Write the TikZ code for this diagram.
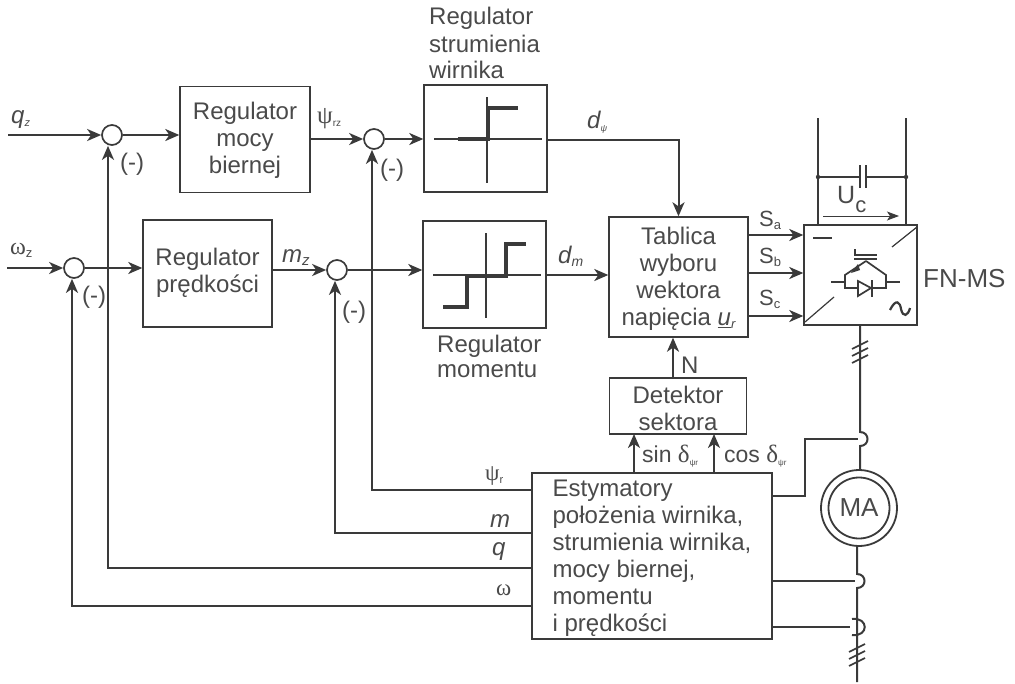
\documentclass[tikz,border=0pt]{standalone}
\usepackage{fontspec}
\setmainfont{Liberation Sans}
\newfontfamily\grk{Liberation Serif}
\usetikzlibrary{arrows.meta,calc}
\definecolor{ink}{HTML}{3A3A3A}
\definecolor{txt}{HTML}{4A4A4A}
\newcommand{\fs}[1]{\fontsize{#1}{#1}\selectfont}
\newcommand{\lowt}[2]{\raisebox{-3pt}{\fontsize{#1}{#1}\selectfont #2}}
\newcommand{\blines}[3]{\raisebox{#2}[0pt][0pt]{\begin{tabular}{@{}#1@{}}#3\end{tabular}}}
\tikzset{
  mainfont/.style={font=\fontsize{24}{27}\selectfont, text=txt},
  blk/.style={draw=ink, line width=1.4pt, fill=white, inner sep=0pt, mainfont},
  sumnode/.style={circle, draw=ink, line width=1.7pt, fill=white, minimum size=20pt, inner sep=0pt},
  lab/.style={anchor=base west, inner sep=0pt, mainfont},
  smallf/.style={font=\fontsize{22}{22}\selectfont},
  minus/.style={font=\fontsize{24}{24}\selectfont},
  wire/.style={draw=ink, line width=2pt},
  sig/.style={wire, -{Stealth[length=14pt,width=12pt,inset=4pt]}},
  thinw/.style={draw=ink, line width=1.2pt},
  curve/.style={draw=ink, line width=3.4pt, line join=miter},
  axis/.style={draw=ink, line width=1.2pt},
}
\begin{document}
\begin{tikzpicture}[x=1pt,y=-1pt]
\useasboundingbox (0,0) rectangle (1015,683);
% blocks
\node[blk, minimum width=130pt, minimum height=106pt] (mocy) at (245,139.5) {\blines{c}{-8pt}{Regulator\\mocy\\biernej}};
\node[blk, minimum width=129pt, minimum height=107pt] (pred) at (207.5,273.5) {\blines{c}{-6pt}{Regulator\\prędkości}};
\node[blk, minimum width=123pt, minimum height=107pt] (rstr) at (485.5,138.5) {};
\node[blk, minimum width=123pt, minimum height=107pt] (rmom) at (484.5,274.5) {};
\node[blk, minimum width=139pt, minimum height=120pt] (tab) at (678.5,277) {\blines{c}{-9pt}{Tablica\\wyboru\\wektora\\napięcia {\itshape\underline{u}\lowt{13}{r}}}};
\node[blk, minimum width=137pt, minimum height=56pt] (det) at (678,406) {\blines{c}{-12pt}{Detektor\\sektora}};
\node[blk, minimum width=240pt, minimum height=166pt] (est) at (652,556) {\blines{l}{-8.5pt}{Estymatory\\położenia wirnika,\\strumienia wirnika,\\mocy biernej,\\momentu\\i prędkości}};
\node[blk, minimum width=113pt, minimum height=100pt] (conv) at (860.5,275) {};
% summing nodes
\node[sumnode] (s1) at (112,135) {};
\node[sumnode] (s2) at (74,268) {};
\node[sumnode] (s3) at (374,139) {};
\node[sumnode] (s4) at (337,270) {};
% motor
\node[circle, draw=ink, line width=1.8pt, minimum size=76pt, inner sep=0pt] (ma) at (859,508) {};
\node[circle, draw=ink, line width=1.8pt, minimum size=61pt, inner sep=0pt, mainfont, font=\fontsize{26}{26}\selectfont] (mai) at (859,508) {MA};
% free ends
\coordinate (qin) at (8,135);
\coordinate (win) at (7,268);
\coordinate (psiout) at (est.west |- 0,490);
\coordinate (mout) at (est.west |- 0,533);
\coordinate (qout) at (est.west |- 0,568);
\coordinate (wout) at (est.west |- 0,606);
% forward path
\draw[sig] (qin) -- (s1.west);
\draw[sig] (win) -- (s2.west);
\draw[sig] (s1.east) -- (s1.east -| mocy.west);
\draw[sig] (s2.east) -- (s2.east -| pred.west);
\draw[sig] (mocy.east |- s3.west) -- (s3.west);
\draw[sig] (pred.east |- s4.west) -- (s4.west);
\draw[sig] (s3.east) -- (s3.east -| rstr.west);
\draw[sig] (s4.east) -- (s4.east -| rmom.west);
\draw[sig] (rstr.east |- 0,140) -| (tab.north);
\draw[sig] (rmom.east |- 0,275) -- (tab.west |- 0,275);
\draw[sig] (det.north -| 673,0) -- (tab.south -| 673,0);
\draw[sig] (634,473) -- (634,434);
\draw[sig] (714,473) -- (714,434);
% S lines
\draw[sig] (tab.east |- 0,235) -- (conv.west |- 0,235);
\draw[sig] (tab.east |- 0,273) -- (conv.west |- 0,273);
\draw[sig] (tab.east |- 0,316) -- (conv.west |- 0,316);
% feedback
\draw[sig] (psiout) -| ([xshift=-2pt]s3.south);
\draw[sig] (mout) -| ([xshift=-2pt]s4.south);
\draw[sig] (qout) -| ([xshift=-4pt]s1.south);
\draw[sig] (wout) -| ([xshift=-2pt]s2.south);
% DC link
\coordinate (dl) at (818,118);
\coordinate (dr) at (906,118);
\draw[wire] (dl) -- (dl |- conv.north);
\draw[wire] (dr) -- (dr |- conv.north);
\draw[wire] (818,177) -- (860,177);
\draw[wire] (866,177) -- (906,177);
\fill[ink] (818,177) circle (2.2pt) (906,177) circle (2.2pt);
\draw[wire] (860,165) -- (860,188);
\draw[wire] (866,165) -- (866,188);
\draw[draw=ink, line width=1pt, -{Stealth[length=12pt,width=9pt,inset=3pt]}] (823,216) -- (899,216);
% motor lines with hooks
\coordinate (j1a) at (860,432);
\coordinate (j1b) at (860,446);
\coordinate (j2a) at (857,574);
\coordinate (j2b) at (857,588);
\draw[wire] (860,325) -- (j1a) .. controls (870,432) and (870,446) .. (j1b) -- (ma.north -| j1b);
\draw[wire] (ma.south -| j2a) -- (j2a) .. controls (867,574) and (867,588) .. (j2b) -- (857,682);
\draw[wire] (est.east |- 0,496) -- (805,496) -- (805,439) -- (858,439);
\draw[wire] (est.east |- 0,581) -- (855,581);
\draw[wire] (est.east |- 0,627) -- (850,627);
\draw[wire] (852,619) .. controls (869,617) and (869,637) .. (852,635);
% hash marks
\foreach \yy in {345,352,359} \draw[thinw,line width=1.6pt] (852,\yy+4) -- (868,\yy-4);
\foreach \yy in {648,655,662} \draw[thinw,line width=1.6pt] (849,\yy+4) -- (865,\yy-4);
% regulator characteristics
\draw[axis] (434,139) -- (542,139);
\draw[axis] (487,97) -- (487,183);
\draw[curve] (458,139) -- (488,139) -- (488,108) -- (518,108);
\draw[axis] (433,275) -- (541,275);
\draw[axis] (486,233) -- (486,318);
\draw[curve] (443,307) -- (467,307) -- (467,276) -- (506,276) -- (506,244) -- (526,244);
% converter symbols
\draw[wire] (813,238) -- (832,238);
\draw[thinw] (892,247) -- (917,227);
\draw[thinw] (805,322) -- (834,297);
\draw[draw=ink, line width=2.2pt] (890,310) .. controls (896,298) and (900,302) .. (901,309) .. controls (903,318) and (908,316) .. (910,308);
\draw[thinw] (855,249) -- (855,255) -- (877,255);
\draw[draw=ink, line width=2.6pt] (854,259) -- (877,259);
\draw[thinw,line width=1.7pt] (866,261) -- (845,275) -- (845,288) -- (886,288) -- (886,275) -- (866,261);
\fill[ink] (851,273) -- (858,264) -- (860,270) -- cycle;
\draw[thinw,line width=1.7pt] (831,282) -- (845,282);
\draw[thinw,line width=1.7pt] (886,282) -- (900,282);
\draw[thinw,line width=1.7pt,fill=white] (858,281) -- (858,296) -- (871,288) -- cycle;
\draw[draw=ink, line width=2pt] (872,280) -- (872,297);
% labels
\node[lab] (l1) at (429,24) {Regulator};
\node[lab] (l2) at (429,52) {strumienia};
\node[lab] (l3) at (429,78) {wirnika};
\node[lab] (l4) at (437,352) {Regulator};
\node[lab] (l5) at (437,377) {momentu};
\node[lab, font=\fontsize{26}{26}\selectfont] (fn) at (923,287) {FN-MS};
\node[lab] (qz) at (11,123) {\itshape q\lowt{11}{z}};
\node[lab] (wz) at (10,254) {{\grk\fs{24}ω}\lowt{13}{z}};
\node[lab] (psz) at (317,123) {{\grk\fs{25}ψ}\lowt{10}{rz}};
\node[lab] (mz) at (282,262) {\itshape m\lowt{15}{z}};
\node[lab, minus] (n1) at (120,170) {(-)};
\node[lab, minus] (n2) at (82,303) {(-)};
\node[lab, minus] (n3) at (380,176) {(-)};
\node[lab, minus] (n4) at (342,318) {(-)};
\node[lab] (dp) at (587,128) {\itshape d\lowt{9}{ψ}};
\node[lab] (dm) at (558,263) {\itshape d\lowt{14}{m}};
\node[lab, smallf] (sa) at (759,226) {S\lowt{13}{a}};
\node[lab, smallf] (sb) at (759,263) {S\lowt{13}{b}};
\node[lab, smallf] (sc) at (759,305) {S\lowt{13}{c}};
\node[lab] (nn) at (681,373) {N};
\node[lab, font=\fontsize{23}{23}\selectfont] (sn) at (642,462) {sin {\grk\fs{25}δ}\lowt{8}{ψr}};
\node[lab, font=\fontsize{23}{23}\selectfont] (cs) at (724,462) {cos {\grk\fs{25}δ}\lowt{8}{ψr}};
\node[lab] (pr) at (485,480) {{\grk\fs{23}ψ}\lowt{11}{r}};
\node[lab] (ml) at (490,527) {\itshape m};
\node[lab] (ql) at (492,555) {\itshape q};
\node[lab] (wl) at (496,595) {\grk\fs{23}ω};
\node[lab, font=\fontsize{25}{25}\selectfont] (uc) at (837,203) {U\raisebox{-9pt}{\fs{22}c}};
\end{tikzpicture}
\end{document}
